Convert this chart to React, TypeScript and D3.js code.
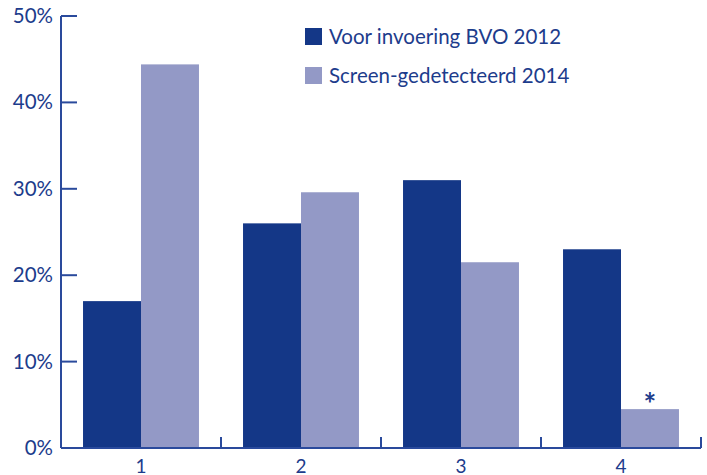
import React from "react";
import * as d3 from "d3";

const categories = ["1", "2", "3", "4"];
const seriesNames = ["Voor invoering BVO 2012", "Screen-gedetecteerd 2014"];
const voor2012 = [17.0, 26.0, 31.0, 23.0];
const screen2014 = [44.4, 29.6, 21.5, 4.5];
const yTicks = [0, 10, 20, 30, 40, 50];
const colors = ["#143787", "#9399c6"];
const textColor = "#1d3c8c";
const axisColor = "#2a4a9c";

export default function App() {
  const W = 707, H = 475;
  const left = 61, right = 701, top = 16, bottom = 448;
  const x = d3.scaleBand<string>().domain(categories).range([left, right]).paddingInner(0).paddingOuter(0);
  const inner = d3.scaleBand<string>().domain(["a", "b"]).range([0, x.bandwidth()]).paddingOuter(0.38).paddingInner(0);
  const y = d3.scaleLinear().domain([0, 50]).range([bottom, top]);
  const series = [voor2012, screen2014];
  const font = "Lato, 'Open Sans', sans-serif";
  return (
    <svg width={W} height={H} style={{ position: "absolute", left: 0, top: 0 }}>
      {categories.map((c, i) =>
        series.map((s, k) => (
          <rect key={c + k} x={(x(c) as number) + (inner(k === 0 ? "a" : "b") as number)} y={y(s[i])}
            width={inner.bandwidth()} height={bottom - y(s[i])} fill={colors[k]} />
        ))
      )}
      <line x1={left} x2={left} y1={top} y2={bottom} stroke={axisColor} strokeWidth={2} />
      <line x1={left} x2={right} y1={bottom} y2={bottom} stroke={axisColor} strokeWidth={2} />
      {yTicks.map((t) => (
        <g key={t}>
          <line x1={left} x2={left + 16} y1={y(t)} y2={y(t)} stroke={axisColor} strokeWidth={2} />
          <text x={53} y={y(t) + 7} textAnchor="end" fontFamily={font} fontSize={20.5} fill={textColor}>{t}%</text>
        </g>
      ))}
      {[...categories.map((c) => x(c) as number), right].map((p, i) => (
        <line key={i} x1={p} x2={p} y1={bottom - 11} y2={bottom} stroke={axisColor} strokeWidth={2} />
      ))}
      {categories.map((c) => (
        <text key={c} x={(x(c) as number) + x.bandwidth() / 2} y={472.5} textAnchor="middle" fontFamily={font} fontSize={19} fill={textColor}>{c}</text>
      ))}
      <text x={(x("4") as number) + (inner("b") as number) + inner.bandwidth() / 2} y={y(screen2014[3]) + 6} textAnchor="middle" fontFamily={font} fontSize={30} fontWeight="bold" fill={textColor}>*</text>
      {seriesNames.map((n, k) => (
        <g key={n} transform={`translate(305, ${28 + k * 39})`}>
          <rect x={0} y={0} width={17} height={17} fill={colors[k]} />
          <text x={24} y={16} fontFamily={font} fontSize={20.5} fill={textColor}>{n}</text>
        </g>
      ))}
    </svg>
  );
}
